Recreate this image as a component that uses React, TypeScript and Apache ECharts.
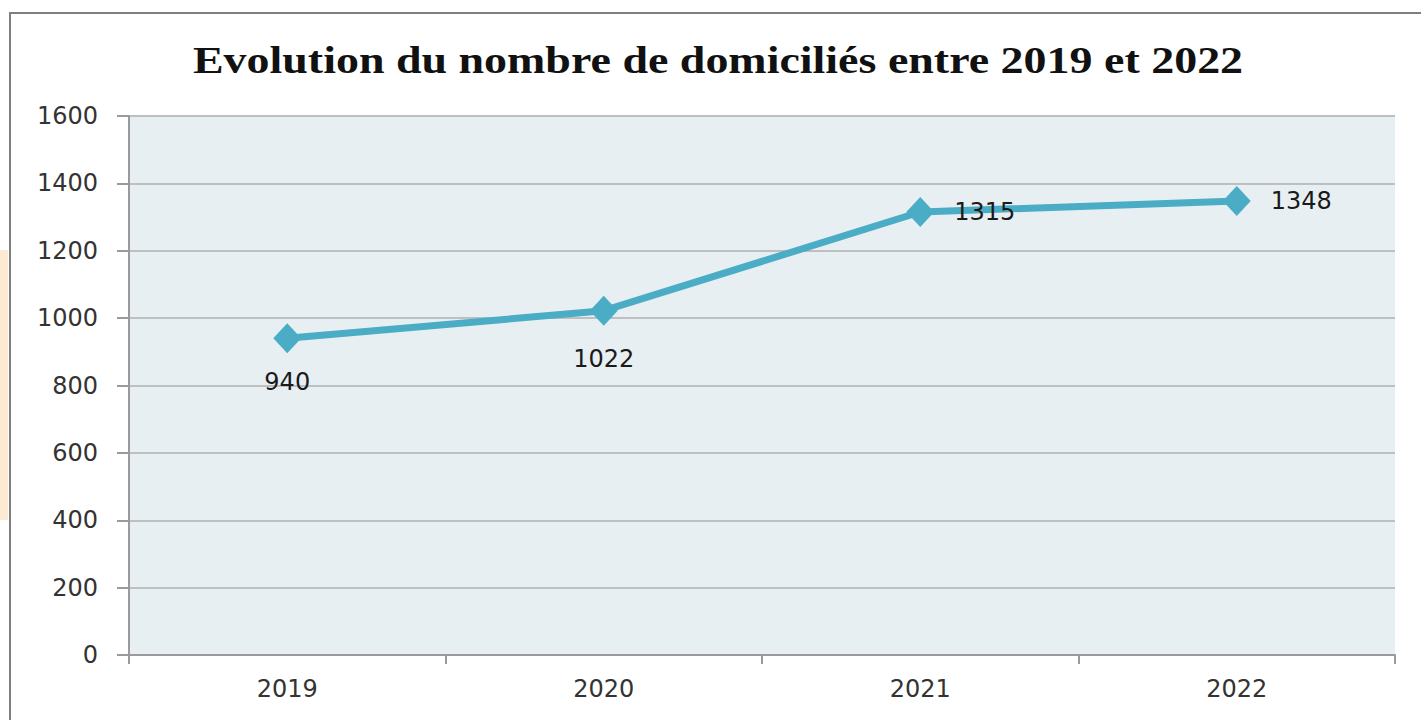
import React, { useEffect, useRef } from "react";
import * as echarts from "echarts";

const title = "Evolution du nombre de domiciliés entre 2019 et 2022";
const categories = ["2019", "2020", "2021", "2022"];
const values = [940, 1022, 1315, 1348];
const labelPositions = ["bottom", "bottom", "right", "right"];
const labelDistances = [17, 21, 20, 20];

export default function App() {
  const ref = useRef<HTMLDivElement>(null);
  useEffect(() => {
    const chart = echarts.init(ref.current!, null, { renderer: "svg" });
    chart.setOption({
      animation: false,
      backgroundColor: "#ffffff",
      graphic: [
        {
          type: "rect",
          shape: { x: 0, y: 250, width: 8, height: 270 },
          style: { fill: "#FDEAD3" },
          z: -10,
        },
        {
          type: "rect",
          shape: { x: 10, y: 13, width: 1500, height: 800 },
          style: { fill: "none", stroke: "#7f7f7f", lineWidth: 2 },
          z: -5,
        },
        {
          type: "text",
          x: 718,
          y: 60,
          scaleX: 1.21,
          style: {
            text: title,
            align: "center",
            verticalAlign: "middle",
            fontFamily: "Liberation Serif",
            fontWeight: "bold",
            fontSize: 38,
            fill: "#111111",
          },
        },
      ],
      grid: {
        left: 129,
        right: 26,
        top: 116,
        bottom: 65,
        show: true,
        backgroundColor: "#E8EFF3",
        borderWidth: 0,
      },
      xAxis: {
        type: "category",
        data: categories,
        boundaryGap: true,
        axisLine: { lineStyle: { color: "#9a9a9a", width: 2 } },
        axisTick: { show: true, length: 9, lineStyle: { color: "#9a9a9a", width: 2 } },
        axisLabel: {
          margin: 22,
          fontFamily: "DejaVu Sans",
          fontSize: 24,
          color: "#333333",
        },
      },
      yAxis: {
        type: "value",
        min: 0,
        max: 1600,
        interval: 200,
        axisLine: { show: true, lineStyle: { color: "#9a9a9a", width: 2 } },
        axisTick: { show: true, length: 12, lineStyle: { color: "#9a9a9a", width: 2 } },
        axisLabel: {
          margin: 31,
          fontFamily: "DejaVu Sans",
          fontSize: 24,
          color: "#333333",
          formatter: (v: number) => String(v),
        },
        splitLine: { lineStyle: { color: "#BDBFC1", width: 2 } },
      },
      series: [
        {
          type: "line",
          data: values.map((v, i) => ({
            value: v,
            label: {
              show: true,
              position: labelPositions[i],
              distance: labelDistances[i],
            },
          })),
          symbol: "diamond",
          symbolSize: [28, 30],
          lineStyle: { color: "#4BACC6", width: 7 },
          itemStyle: { color: "#4BACC6" },
          label: {
            fontFamily: "DejaVu Sans",
            fontSize: 24,
            color: "#1a1a1a",
          },
        },
      ],
    });
    return () => chart.dispose();
  }, []);
  return (
    <div
      ref={ref}
      style={{ position: "absolute", left: 0, top: 0, width: 1421, height: 720 }}
    />
  );
}
